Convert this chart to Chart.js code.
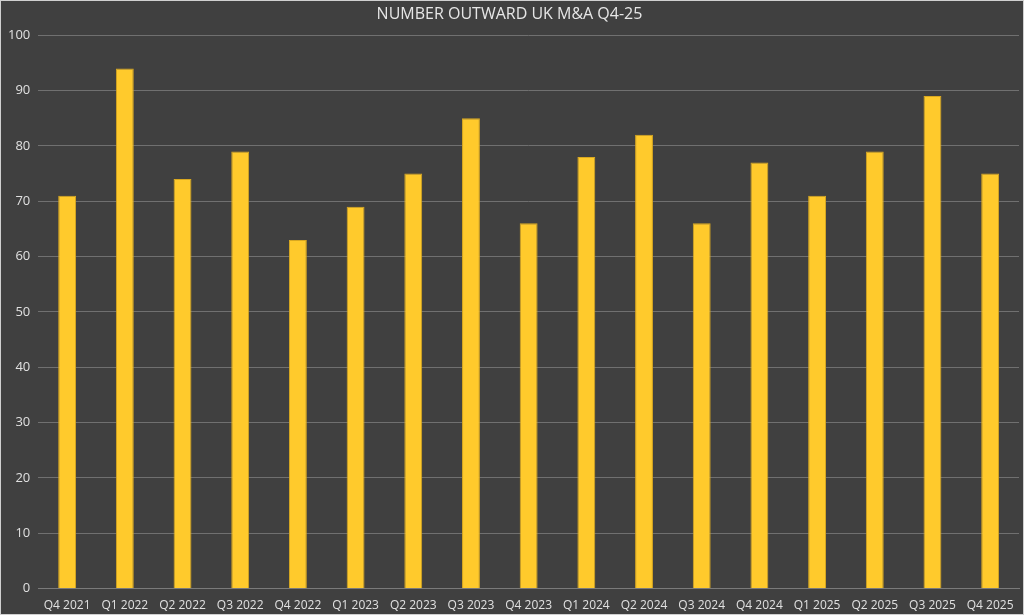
<!DOCTYPE html>
<html lang="en">
<head>
    <meta charset="UTF-8">
    <title>Number Outward UK M&amp;A Q4-25</title>
    <script src="https://cdn.jsdelivr.net/npm/chart.js@4/dist/chart.umd.min.js"></script>
    <style>
        body { margin: 0; background: #404040; }
        #wrap { width: 1024px; height: 615px; }
    </style>
</head>
<body>
    <div id="wrap"><canvas id="dealsChart" width="1024" height="615"></canvas></div>
    <script>
        const quarters = ['Q4 2021', 'Q1 2022', 'Q2 2022', 'Q3 2022', 'Q4 2022', 'Q1 2023', 'Q2 2023', 'Q3 2023',
            'Q4 2023', 'Q1 2024', 'Q2 2024', 'Q3 2024', 'Q4 2024', 'Q1 2025', 'Q2 2025', 'Q3 2025', 'Q4 2025'];
        const dealCounts = [71, 94, 74, 79, 63, 69, 75, 85, 66, 78, 82, 66, 77, 71, 79, 89, 75];
        const yMin = 0, yMax = 100, yStep = 10;

        // dark panel with a thin light frame
        const frame = {
            id: 'frame',
            beforeDraw(chart) {
                const c = chart.ctx;
                c.save();
                c.fillStyle = '#404040';
                c.fillRect(0, 0, chart.width, chart.height);
                c.strokeStyle = '#d0d0d0';
                c.lineWidth = 1;
                c.strokeRect(0.5, 0.5, chart.width - 1, chart.height - 1);
                c.restore();
            }
        };

        const ctx = document.getElementById('dealsChart').getContext('2d');
        new Chart(ctx, {
            type: 'bar',
            data: {
                labels: quarters,
                datasets: [{
                    label: 'Number of deals',
                    data: dealCounts,
                    backgroundColor: '#ffca2c',
                    borderColor: '#d9a820',
                    borderWidth: 1,
                    barPercentage: 0.62,
                    categoryPercentage: 0.5
                }]
            },
            options: {
                responsive: false,
                animation: false,
                layout: { padding: { left: 0, right: 5, top: 0, bottom: 0 } },
                plugins: {
                    legend: { display: false },
                    tooltip: { enabled: false },
                    title: {
                        display: true,
                        text: 'NUMBER OUTWARD UK M&A Q4-25',
                        color: '#e6e6e6',
                        font: { family: 'Open Sans', size: 16, weight: 'normal' },
                        padding: { top: 5, bottom: 11 }
                    }
                },
                scales: {
                    x: {
                        grid: { display: false },
                        border: { color: '#7a7a7a', width: 1 },
                        ticks: {
                            color: '#e0e0e0',
                            font: { family: 'Open Sans', size: 12 },
                            maxRotation: 0,
                            padding: 2
                        }
                    },
                    y: {
                        min: yMin,
                        max: yMax,
                        ticks: {
                            stepSize: yStep,
                            color: '#e0e0e0',
                            font: { family: 'Open Sans', size: 13 },
                            padding: 8
                        },
                        grid: { color: '#707070', lineWidth: 1, drawTicks: false },
                        border: { display: false }
                    }
                }
            },
            plugins: [frame]
        });
    </script>
</body>
</html>
